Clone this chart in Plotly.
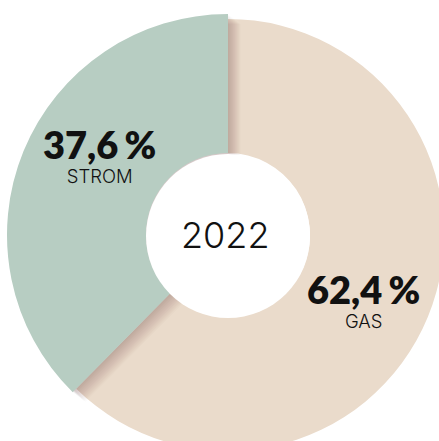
import plotly.graph_objects as go

# ---- data ----
categories = ["GAS", "STROM"]
shares = [62.4, 37.6]
year_label = "2022"

# ---- geometry / style (pixels) ----
W, H = 480, 490
CX, CY = 228, 235
R_GAS, R_STROM, R_HOLE = 216, 221, 82
BEIGE = "#EADBCB"
GREEN = "#B7CDC2"
CLEAR = "rgba(0,0,0,0)"
SHADOW = "rgba(40,25,10,0.016)"


def px(x):
    return x / W


def py(y):
    return 1 - y / H


def dom(cx, cy, r):
    return dict(x=[px(cx - r), px(cx + r)], y=[py(cy + r), py(cy - r)])


def donut(colors, cx, cy, r):
    return go.Pie(
        labels=categories, values=shares, sort=False, direction="clockwise",
        rotation=0, hole=R_HOLE / r, domain=dom(cx, cy, r),
        marker=dict(colors=colors, line=dict(width=0)),
        textinfo="none", hoverinfo="skip", showlegend=False,
    )


traces = [donut([BEIGE, CLEAR], CX, CY, R_GAS)]
# soft drop shadow of the raised STROM slice
for k in range(1, 15):
    traces.append(donut([CLEAR, SHADOW], CX + 0.9 * k, CY + 0.7 * k, R_STROM))
traces.append(donut([CLEAR, GREEN], CX, CY, R_STROM))

fig = go.Figure(traces)


def fmt(v):
    return f"{v:.1f}".replace(".", ",") + "\u2006%"


label_pos = {"GAS": (363, 298.5), "STROM": (99, 154)}
annotations = []
for cat, val in zip(categories, shares):
    x, y = label_pos[cat]
    annotations.append(dict(
        x=px(x), y=py(y), xref="paper", yref="paper", showarrow=False,
        text=(f"<span style='font-family:Lato;font-weight:800;font-size:38px'>{fmt(val)}</span>"
              f"<br>{cat}"),
        xanchor="center", yanchor="middle", align="center",
        font=dict(family="Inter", size=18.5, color="#111111", weight=300),
    ))
annotations.append(dict(
    x=px(225), y=py(235), xref="paper", yref="paper", showarrow=False,
    text=year_label, xanchor="center", yanchor="middle",
    font=dict(family="Inter", size=36, color="#111111", weight=300),
))

fig.update_layout(
    width=W, height=H, margin=dict(l=0, r=0, t=0, b=0),
    paper_bgcolor="white", plot_bgcolor="white",
    hovermode=False, showlegend=False,
    shapes=[dict(
        type="circle", xref="paper", yref="paper", layer="above",
        x0=px(CX - R_HOLE), x1=px(CX + R_HOLE),
        y0=py(236 + R_HOLE), y1=py(236 - R_HOLE),
        fillcolor="white", line=dict(width=0),
    )],
    annotations=annotations,
)

fig.write_html(
    "out.html",
    config={"displayModeBar": False, "staticPlot": True},
    post_script="document.body.style.margin='0';document.body.style.overflow='hidden';",
)
